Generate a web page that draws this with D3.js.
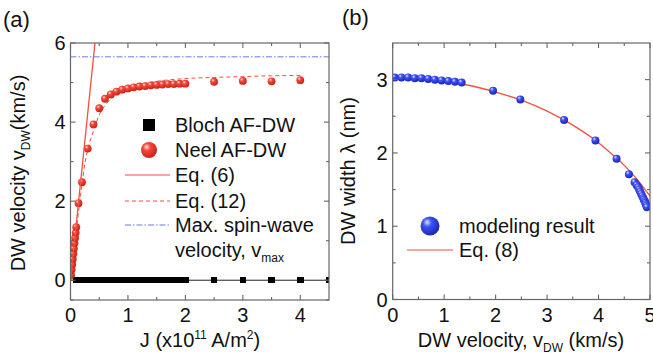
<!DOCTYPE html>
<html><head><meta charset="utf-8">
<script src="https://cdn.jsdelivr.net/npm/d3@7/dist/d3.min.js"></script>
<style>
body{margin:0;background:#fff;}
svg text{font-family:"Liberation Sans",Arial,sans-serif;fill:#111;}
</style></head>
<body><svg id="c" width="653" height="356"></svg>
<script>
// ---------- Panel (a) data ----------
const neelJ = [0.01,0.02,0.03,0.04,0.05,0.06,0.07,0.08,0.09,0.1,0.14,0.2,0.3,0.4,0.5,0.6,0.7,0.8,0.9,1.0,1.1,1.2,1.3,1.4,1.5,1.6,1.7,1.8,1.9,2.0,2.5,3.0,3.5,4.0];
const neelV = [0.13,0.27,0.40,0.54,0.67,0.80,0.94,1.07,1.20,1.34,1.95,2.48,3.33,3.94,4.35,4.59,4.70,4.77,4.82,4.85,4.88,4.90,4.91,4.93,4.94,4.95,4.96,4.96,4.97,4.97,5.02,5.04,5.03,5.06];
const blochJ = [0.1,0.15,0.2,0.25,0.3,0.35,0.4,0.45,0.5,0.55,0.6,0.65,0.7,0.75,0.8,0.85,0.9,0.95,1.0,1.05,1.1,1.15,1.2,1.25,1.3,1.35,1.4,1.45,1.5,1.55,1.6,1.65,1.7,1.75,1.8,1.85,1.9,1.95,2.0,2.5,3.0,3.5,4.0,4.5];
const blochV = [0,0,0,0,0,0,0,0,0,0,0,0,0,0,0,0,0,0,0,0,0,0,0,0,0,0,0,0,0,0,0,0,0,0,0,0,0,0,0,0,0,0,0,0];
const eq6J = [0, 0.426];
const eq6V = [0, 6];
const eq12J = [0,0.05,0.1,0.15,0.2,0.25,0.3,0.4,0.5,0.6,0.7,0.8,1.0,1.2,1.5,2.0,2.5,3.0,3.5,4.0];
const eq12V = [0,0.62,1.25,1.85,2.42,2.95,3.3,3.78,4.18,4.42,4.58,4.7,4.86,4.95,5.03,5.1,5.13,5.15,5.17,5.18];
const vmaxJ = [0, 4.5];
const vmaxV = [5.65, 5.65];
const aXTicks = [0,1,2,3,4];
const aYTicks = [0,2,4,6];

// ---------- Panel (b) data ----------
const modelV = [0.04,0.17,0.30,0.43,0.56,0.69,0.82,0.95,1.08,1.21,1.34,1.95,2.48,3.33,3.94,4.35,4.59,4.70,4.74,4.77,4.79,4.81,4.83,4.85,4.87,4.88,4.90,4.91,4.92,4.93,4.94];
const modelL = [3.03,3.03,3.03,3.02,3.02,3.01,3.00,2.99,2.98,2.97,2.96,2.85,2.73,2.45,2.17,1.92,1.71,1.60,1.56,1.53,1.50,1.47,1.44,1.41,1.38,1.36,1.34,1.32,1.30,1.28,1.26];
const eq8V = [0,0.5,1,1.5,2,2.5,3,3.5,4,4.25,4.5,4.75,5];
const eq8L = [3.03,3.01,2.98,2.92,2.83,2.72,2.57,2.38,2.14,1.99,1.83,1.64,1.41];
const bXTicks = [0,1,2,3,4,5];
const bYTicks = [0,1,2,3];

const svg = d3.select("#c");
const defs = svg.append("defs");
function sphereGrad(id, c0, c1, c2){
  const g = defs.append("radialGradient").attr("id", id).attr("cx","38%").attr("cy","35%").attr("r","65%").attr("fx","35%").attr("fy","30%");
  g.append("stop").attr("offset","0%").attr("stop-color", c0);
  g.append("stop").attr("offset","35%").attr("stop-color", c1);
  g.append("stop").attr("offset","100%").attr("stop-color", c2);
}
sphereGrad("gRed", "#ffe4de", "#f6473a", "#c8241a");
sphereGrad("gBlue", "#e0e6ff", "#3f52f4", "#1a26b8");

const FS = 20;
const RED = "#f25040", BLUE = "#6b78e6", FRAME = "#666";

function frame(g, x, y, xMajor, xMinor, yMajor, yMinor, xFmt, yFmt){
  const [x0,x1] = x.range(), [y0,y1] = y.range();
  g.append("rect").attr("x",x0).attr("y",y1).attr("width",x1-x0).attr("height",y0-y1)
    .attr("fill","none").attr("stroke",FRAME).attr("stroke-width",1.2);
  const tk = g.append("g").attr("stroke",FRAME).attr("stroke-width",1.1);
  xMinor.forEach(v=>{ const px=x(v);
    tk.append("line").attr("x1",px).attr("x2",px).attr("y1",y0).attr("y2",y0-3);
    tk.append("line").attr("x1",px).attr("x2",px).attr("y1",y1).attr("y2",y1+3);});
  xMajor.forEach(v=>{ const px=x(v);
    tk.append("line").attr("x1",px).attr("x2",px).attr("y1",y0).attr("y2",y0-5);
    tk.append("line").attr("x1",px).attr("x2",px).attr("y1",y1).attr("y2",y1+5);});
  yMinor.forEach(v=>{ const py=y(v);
    tk.append("line").attr("y1",py).attr("y2",py).attr("x1",x0).attr("x2",x0+3);
    tk.append("line").attr("y1",py).attr("y2",py).attr("x1",x1).attr("x2",x1-3);});
  yMajor.forEach(v=>{ const py=y(v);
    tk.append("line").attr("y1",py).attr("y2",py).attr("x1",x0).attr("x2",x0+5);
    tk.append("line").attr("y1",py).attr("y2",py).attr("x1",x1).attr("x2",x1-5);});
  xMajor.forEach(v=> g.append("text").attr("x",x(v)).attr("y",y0+22).attr("text-anchor","middle")
    .attr("font-size",FS).text(xFmt(v)));
  yMajor.forEach(v=> g.append("text").attr("x",x0-5).attr("y",y(v)+7).attr("text-anchor","end")
    .attr("font-size",FS).text(yFmt(v)));
}

// ================= Panel (a) =================
const xA = d3.scaleLinear().domain([0,4.5]).range([70.5,329]);
const yA = d3.scaleLinear().domain([-0.5,6]).range([300,43]);
const gA = svg.append("g");
defs.append("clipPath").attr("id","clipA").append("rect")
  .attr("x",70.5).attr("y",43).attr("width",329-70.5).attr("height",300-43);
const pA = gA.append("g").attr("clip-path","url(#clipA)");

const lineA = (J,V,curve)=> d3.line().x((d,i)=>xA(J[i])).y((d,i)=>yA(V[i])).curve(curve||d3.curveLinear)(J);

pA.append("path").attr("d", lineA(vmaxJ,vmaxV)).attr("fill","none").attr("stroke",BLUE)
  .attr("stroke-width",1).attr("stroke-dasharray","6,2,1.5,2");
pA.append("path").attr("d", lineA([0].concat(blochJ),[0].concat(blochV))).attr("fill","none").attr("stroke","#222").attr("stroke-width",1);
pA.selectAll("rect.bl").data(blochJ).join("rect").attr("class","bl")
  .attr("x",(d)=>xA(d)-3.25).attr("y",(d,i)=>yA(blochV[i])-3.25).attr("width",6.5).attr("height",6.5)
  .attr("fill","#000").attr("shape-rendering","crispEdges");
pA.append("path").attr("d", lineA(eq12J,eq12V,d3.curveMonotoneX)).attr("fill","none").attr("stroke",RED)
  .attr("stroke-width",1).attr("stroke-dasharray","4,3");
pA.selectAll("circle.ne").data(neelJ).join("circle").attr("class","ne")
  .attr("cx",d=>xA(d)).attr("cy",(d,i)=>yA(neelV[i])).attr("r",3.9).attr("fill","url(#gRed)");
pA.append("path").attr("d", lineA(eq6J,eq6V)).attr("fill","none").attr("stroke",RED).attr("stroke-width",1.3);

frame(gA, xA, yA, aXTicks, [0.5,1.5,2.5,3.5], aYTicks, [-0.5,1,3,5], d=>d, d=>d);

const lgA = gA.append("g");
const lx0 = 125, lx1 = 170, ltx = 175;
lgA.append("rect").attr("x",143).attr("y",119).attr("width",12).attr("height",12).attr("fill","#000");
lgA.append("circle").attr("cx",149).attr("cy",150).attr("r",8).attr("fill","url(#gRed)");
lgA.append("line").attr("x1",lx0).attr("x2",lx1).attr("y1",175).attr("y2",175).attr("stroke",RED).attr("stroke-width",1.2);
lgA.append("line").attr("x1",lx0).attr("x2",lx1).attr("y1",201).attr("y2",201).attr("stroke",RED).attr("stroke-width",1).attr("stroke-dasharray","4,3");
lgA.append("line").attr("x1",lx0).attr("x2",lx1).attr("y1",225).attr("y2",225).attr("stroke",BLUE).attr("stroke-width",1).attr("stroke-dasharray","6,2,1.5,2");
const lgTexts = [["Bloch AF-DW",125],["Neel AF-DW",150],["Eq. (6)",175],["Eq. (12)",201],["Max. spin-wave",225]];
lgTexts.forEach(([t,y])=> lgA.append("text").attr("x",ltx).attr("y",y+7).attr("font-size",FS).text(t));
const vt = lgA.append("text").attr("x",ltx).attr("y",257).attr("font-size",FS);
vt.append("tspan").text("velocity, v");
vt.append("tspan").attr("font-size",12).attr("dy",5).text("max");

const xtA = gA.append("text").attr("x",200).attr("y",347).attr("text-anchor","middle").attr("font-size",FS);
xtA.append("tspan").text("J (x10");
xtA.append("tspan").attr("font-size",12).attr("dy",-8).text("11");
xtA.append("tspan").attr("dy",8).text(" A/m");
xtA.append("tspan").attr("font-size",12).attr("dy",-8).text("2");
xtA.append("tspan").attr("dy",8).text(")");
const ytA = gA.append("text").attr("transform","translate(25,173) rotate(-90)").attr("text-anchor","middle").attr("font-size",FS);
ytA.append("tspan").text("DW velocity v");
ytA.append("tspan").attr("font-size",12).attr("dy",5).text("DW");
ytA.append("tspan").attr("dy",-5).text("(km/s)");
gA.append("text").attr("x",3).attr("y",27).attr("font-size",22).text("(a)");

// ================= Panel (b) =================
const xB = d3.scaleLinear().domain([0,5]).range([392.7,650]);
const yB = d3.scaleLinear().domain([0,3.5]).range([299.5,43]);
const gB = svg.append("g");
defs.append("clipPath").attr("id","clipB").append("rect")
  .attr("x",392.7).attr("y",43).attr("width",650-392.7).attr("height",299.5-43);
const pB = gB.append("g").attr("clip-path","url(#clipB)");
pB.append("path").attr("d", d3.line().x((d,i)=>xB(eq8V[i])).y((d,i)=>yB(eq8L[i])).curve(d3.curveMonotoneX)(eq8V))
  .attr("fill","none").attr("stroke",RED).attr("stroke-width",1.3);
pB.selectAll("circle.mo").data(modelV).join("circle").attr("class","mo")
  .attr("cx",d=>xB(d)).attr("cy",(d,i)=>yB(modelL[i])).attr("r",4).attr("fill","url(#gBlue)");

frame(gB, xB, yB, bXTicks, [0.5,1.5,2.5,3.5,4.5], bYTicks, [0.5,1.5,2.5], d=>d, d=>d);

const lgB = gB.append("g");
lgB.append("circle").attr("cx",430).attr("cy",226).attr("r",9.5).attr("fill","url(#gBlue)");
lgB.append("text").attr("x",459).attr("y",233).attr("font-size",FS).text("modeling result");
lgB.append("line").attr("x1",407).attr("x2",453).attr("y1",250).attr("y2",250).attr("stroke",RED).attr("stroke-width",1.2);
lgB.append("text").attr("x",459).attr("y",257).attr("font-size",FS).text("Eq. (8)");

const xtB = gB.append("text").attr("x",521).attr("y",347).attr("text-anchor","middle").attr("font-size",FS);
xtB.append("tspan").text("DW velocity, v");
xtB.append("tspan").attr("font-size",12).attr("dy",5).text("DW");
xtB.append("tspan").attr("dy",-5).text(" (km/s)");
gB.append("text").attr("transform","translate(355,171) rotate(-90)").attr("text-anchor","middle").attr("font-size",FS)
  .text("DW width λ (nm)");
gB.append("text").attr("x",342).attr("y",25).attr("font-size",22).text("(b)");
</script></body></html>
